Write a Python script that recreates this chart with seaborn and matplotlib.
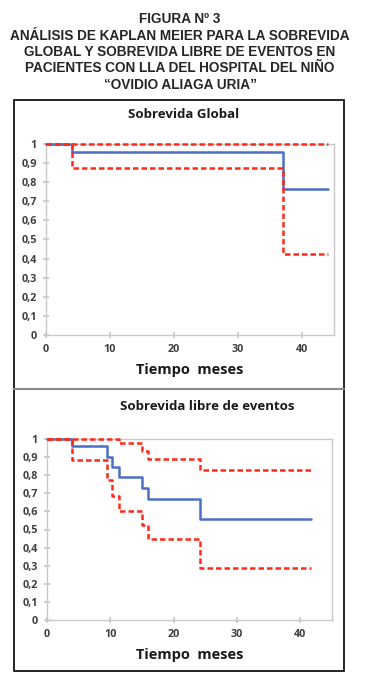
import pandas as pd
import matplotlib as mpl
mpl.use('Agg')
import matplotlib.pyplot as plt
import numpy as np
import seaborn as sns

# Sobrevida Global (step curves, steps-post)
sg_t = [0, 4, 37, 44]
sg_km = [1, 0.956, 0.766, 0.766]
sg_sup = [1, 1, 1, 1]
sg_inf = [1, 0.876, 0.423, 0.423]

# Sobrevida libre de eventos
sle_t = [0, 4, 9.5, 10.2, 11.3, 15, 16, 24.2, 41.7]
sle_km = [1, 0.961, 0.90, 0.845, 0.792, 0.731, 0.668, 0.556, 0.556]
sle_sup = [1, 1, 1, 1, 0.98, 0.934, 0.889, 0.829, 0.829]
sle_inf = [1, 0.884, 0.773, 0.685, 0.602, 0.523, 0.449, 0.285, 0.285]

yticks = np.round(np.arange(0, 1.01, 0.1), 1)
ytick_labels = ['0', '0,1', '0,2', '0,3', '0,4', '0,5', '0,6', '0,7', '0,8', '0,9', '1']
xticks = [0, 10, 20, 30, 40]

titulo = ('FIGURA Nº 3\n'
          'ANÁLISIS DE KAPLAN MEIER PARA LA SOBREVIDA\n'
          'GLOBAL Y SOBREVIDA LIBRE DE EVENTOS EN\n'
          'PACIENTES CON LLA DEL HOSPITAL DEL NIÑO\n'
          '“OVIDIO ALIAGA URIA”')

sns.set_theme(style='white')
plt.rcParams['font.family'] = ['Open Sans', 'DejaVu Sans']

palette = {'km': '#4a6fc4', 'sup': '#ff2a1a', 'inf': '#ff2a1a'}
dashes = {'km': '', 'sup': (2.2, 1.2), 'inf': (2.2, 1.2)}


def make_df(t, km, sup, inf):
	rows = []
	for name, vals in (('km', km), ('sup', sup), ('inf', inf)):
		for ti, v in zip(t, vals):
			rows.append((ti, v, name))
	return pd.DataFrame(rows, columns=['tiempo', 'sobrevida', 'curva'])


def panel(ax, df, title, title_pos):
	sns.lineplot(data=df, x='tiempo', y='sobrevida', hue='curva', style='curva',
				 palette=palette, dashes=dashes, drawstyle='steps-post',
				 estimator=None, sort=False, legend=False, lw=1.8, ax=ax)
	for ln in ax.lines:
		ln.set_clip_on(False)
		ln.set_zorder(4)
	ax.set_xlim(0, 45)
	ax.set_ylim(0, 1)
	ax.set_yticks(yticks)
	ax.set_yticklabels(ytick_labels)
	ax.set_xticks(xticks)
	for s in ax.spines.values():
		s.set_color('#c8c8c8')
		s.set_linewidth(1)
		s.set_zorder(1)
	ax.tick_params(axis='both', which='both', direction='inout', length=5,
				   color='#c8c8c8', labelsize=7.8, labelcolor='#404040', pad=4,
				   left=True, bottom=True)
	for lab in ax.get_xticklabels() + ax.get_yticklabels():
		lab.set_fontweight('bold')
	ax.set_xlabel('Tiempo  meses', fontsize=10.5, fontweight='bold', color='#1a1a1a', labelpad=6)
	ax.set_ylabel('')
	ax.figure.text(title_pos[0], title_pos[1], title, ha='center', va='center',
				   fontsize=9.5, fontweight='bold', color='#1a1a1a')


fig = plt.figure(figsize=(3.85, 6.78), dpi=100)

fig.text(180 / 385, 1 - 52 / 678, titulo, ha='center', va='center', fontsize=9.8,
		 fontweight='bold', family=['Liberation Sans', 'DejaVu Sans'], linespacing=1.22)

ax1 = fig.add_axes([46 / 385, 1 - 335 / 678, 288 / 385, 191 / 678])
panel(ax1, make_df(sg_t, sg_km, sg_sup, sg_inf), 'Sobrevida Global', (184 / 385, 1 - 115 / 678))

ax2 = fig.add_axes([47 / 385, 1 - 620 / 678, 285 / 385, 181 / 678])
panel(ax2, make_df(sle_t, sle_km, sle_sup, sle_inf), 'Sobrevida libre de eventos', (207 / 385, 1 - 407 / 678))

# outer frame and separator
fig.add_artist(plt.Rectangle((14 / 385, 1 - 671 / 678), 330 / 385, 571 / 678,
							 transform=fig.transFigure, fill=False, ec='black', lw=1.2))
fig.add_artist(plt.Line2D([14 / 385, 344 / 385], [1 - 389 / 678, 1 - 389 / 678],
						  transform=fig.transFigure, color='#8a8a8a', lw=1.5))

fig.savefig('out.png', dpi=100)
